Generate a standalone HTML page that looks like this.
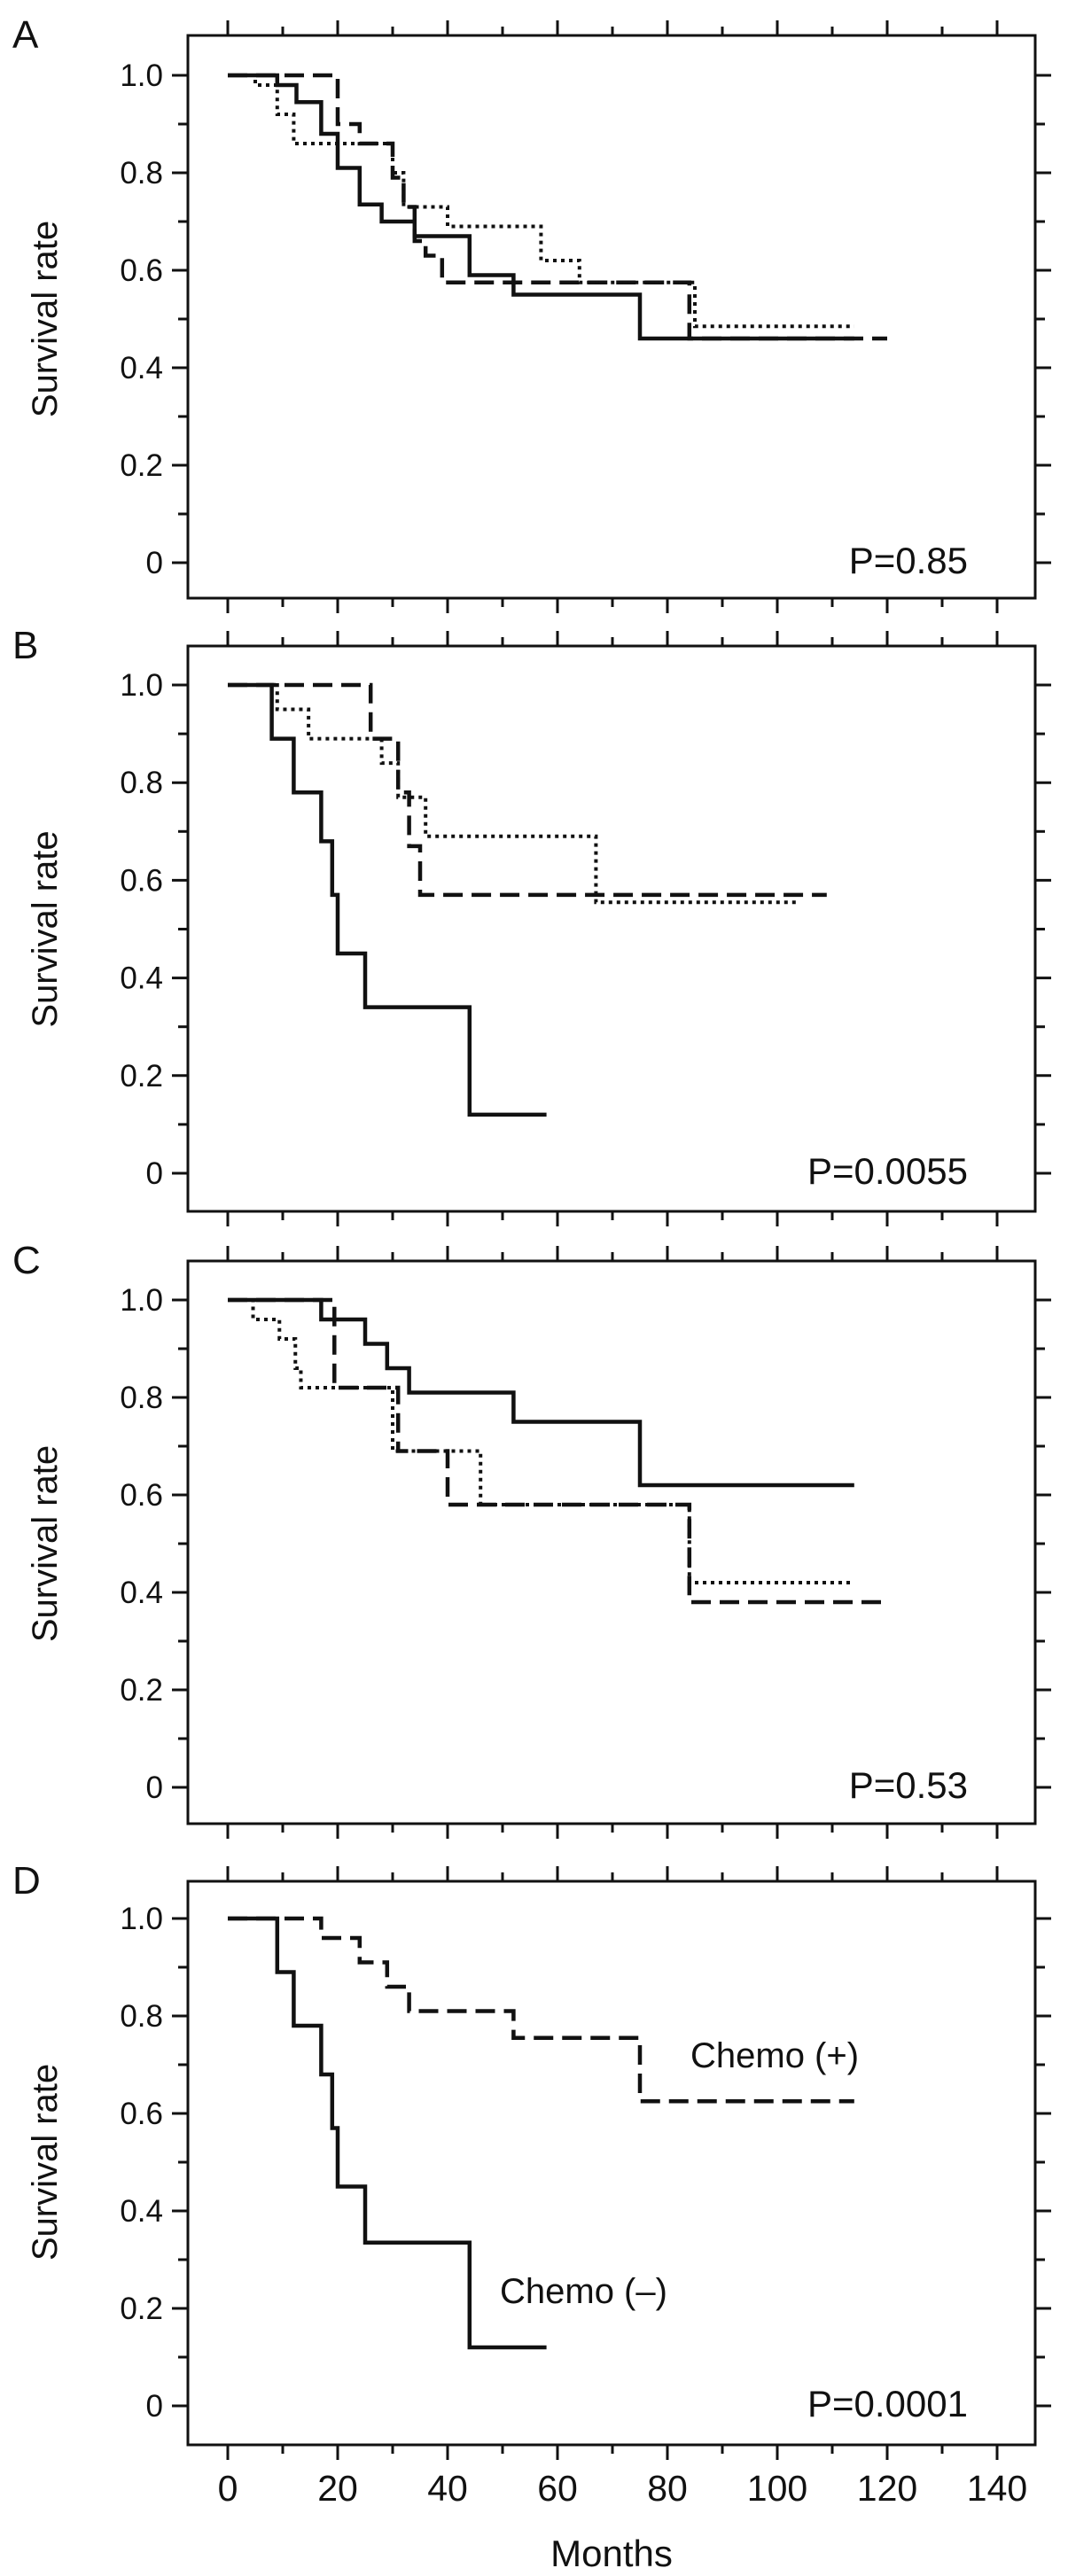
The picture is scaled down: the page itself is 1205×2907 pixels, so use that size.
<!DOCTYPE html>
<html><head><meta charset="utf-8"><style>
html,body{margin:0;padding:0;background:#fff}
svg{display:block}
text{font-family:"Liberation Sans",Arial,sans-serif;fill:#111}
</style></head><body>
<svg id="fig" width="1205" height="2907" viewBox="0 0 1205 2907" xmlns="http://www.w3.org/2000/svg"></svg>
<script>
// ---- data (months, survival) as step functions: breakpoints [month, value-after]
const xTicks = [0,20,40,60,80,100,120,140];
const yTicks = [0,0.2,0.4,0.6,0.8,1.0];
const yTickLabels = ["0","0.2","0.4","0.6","0.8","1.0"];
const panelLabels = ["A","B","C","D"];
const pValues = ["P=0.85","P=0.0055","P=0.53","P=0.0001"];

const aSolidT = [0,9,12.5,17,20,24,28,34,44,52,75,114];
const aSolidV = [1.0,0.98,0.945,0.88,0.81,0.735,0.70,0.67,0.59,0.55,0.46,0.46];
const aDashT = [0,20,24,30,32,34,36,39,84,120];
const aDashV = [1.0,0.90,0.86,0.79,0.73,0.66,0.63,0.575,0.46,0.46];
const aDotT = [0,5,9,12,30,32,40,57,64,85,114];
const aDotV = [1.0,0.98,0.92,0.86,0.80,0.73,0.69,0.62,0.575,0.485,0.485];

const bSolidT = [0,8,12,17,19,20,25,44,58];
const bSolidV = [1.0,0.89,0.78,0.68,0.57,0.45,0.34,0.12,0.12];
const bDashT = [0,26,31,33,35,109];
const bDashV = [1.0,0.89,0.78,0.67,0.57,0.57];
const bDotT = [0,9,14.7,28,31,36,67,104];
const bDotV = [1.0,0.95,0.89,0.84,0.77,0.69,0.555,0.555];

const cSolidT = [0,17,25,29,33,52,75,114];
const cSolidV = [1.0,0.96,0.91,0.86,0.81,0.75,0.62,0.62];
const cDotT = [0,4.6,9.4,12.3,13.3,30,46,84,114];
const cDotV = [1.0,0.96,0.92,0.86,0.82,0.69,0.58,0.42,0.42];
const cDashT = [0,19.4,31,40,84,120];
const cDashV = [1.0,0.82,0.69,0.58,0.38,0.38];

const dSolidT = [0,9,12,17,19,20,25,44,58];
const dSolidV = [1.0,0.89,0.78,0.68,0.57,0.45,0.335,0.12,0.12];
const dDashT = [0,17,24,29,33,52,75,114];
const dDashV = [1.0,0.96,0.91,0.86,0.81,0.755,0.625,0.625];

const NS = "http://www.w3.org/2000/svg";
const svg = document.getElementById('fig');
function mk(tag, attrs, parent){
  const e = document.createElementNS(NS, tag);
  for (const k in attrs) e.setAttribute(k, attrs[k]);
  (parent||svg).appendChild(e);
  return e;
}
const X0 = 257, XS = 6.2;
const BOX_L = 212, BOX_R = 1168;
const panels = [
  {top:40, y1:85, y0:635, bottom:675},
  {top:729, y1:773, y0:1324, bottom:1367},
  {top:1423, y1:1467, y0:2017, bottom:2058},
  {top:2123, y1:2165, y0:2715, bottom:2759}
];
const series = [
  [[aSolidT,aSolidV,'solid'],[aDashT,aDashV,'dash'],[aDotT,aDotV,'dot']],
  [[bSolidT,bSolidV,'solid'],[bDashT,bDashV,'dash'],[bDotT,bDotV,'dot']],
  [[cSolidT,cSolidV,'solid'],[cDotT,cDotV,'dot'],[cDashT,cDashV,'dash']],
  [[dSolidT,dSolidV,'solid'],[dDashT,dDashV,'dash']]
];
const xs = m => X0 + XS*m;

panels.forEach((p, i) => {
  const ys = v => p.y0 - (p.y0 - p.y1)*v;
  const g = mk('g', {});
  
  
  const lab = mk('text', {x:14, y:p.top+14, 'font-size':44}, g);
  lab.textContent = panelLabels[i];
  
  
  const box = mk('rect', {x:BOX_L, y:p.top, width:BOX_R-BOX_L, height:p.bottom-p.top, fill:'none', stroke:'#111', 'stroke-width':3}, g);
  
  
  // x ticks top and bottom
  for (let m = 0; m <= 140; m += 10) {
    const len = (m % 20 === 0) ? 17 : 10;
    const x = xs(m);
    const t1 = mk('line', {x1:x, x2:x, y1:p.top, y2:p.top-len, stroke:'#111', 'stroke-width':3}, g);
    
    
    const t2 = mk('line', {x1:x, x2:x, y1:p.bottom, y2:p.bottom+len, stroke:'#111', 'stroke-width':3}, g);
    
    
  }
  // y ticks
  for (let k = 0; k <= 10; k++) {
    const v = k/10, y = ys(v);
    const len = (k % 2 === 0) ? 18 : 11;
    const t1 = mk('line', {x1:BOX_L, x2:BOX_L-len, y1:y, y2:y, stroke:'#111', 'stroke-width':3}, g);
    
    
    const t2 = mk('line', {x1:BOX_R, x2:BOX_R+len, y1:y, y2:y, stroke:'#111', 'stroke-width':3}, g);
    
    
  }
  yTicks.forEach((v, j) => {
    const t = mk('text', {x:184, y:ys(v)+12, 'font-size':35, 'text-anchor':'end'}, g);
    t.textContent = yTickLabels[j];
    
    
  });
  const yt = mk('text', {x:0, y:0, 'font-size':40, 'text-anchor':'middle', transform:`translate(64,${(p.y0+p.y1)/2}) rotate(-90)`}, g);
  yt.textContent = 'Survival rate';
  
  
  const pv = mk('text', {x:1092, y:p.y0+12, 'font-size':42, 'text-anchor':'end'}, g);
  pv.textContent = pValues[i];
  
  
  // curves
  series[i].forEach(([T, V, style]) => {
    let d = `M${xs(T[0])},${ys(V[0])}`;
    for (let k = 1; k < T.length; k++) {
      d += ` H${xs(T[k])}`;
      if (k < T.length - 1 || V[k] !== V[k-1]) d += ` V${ys(V[k])}`;
    }
    const attrs = {d:d, fill:'none', stroke:'#111', 'stroke-width':4.5};
    if (style === 'dash') attrs['stroke-dasharray'] = '22 10';
    if (style === 'dot') { attrs['stroke-dasharray'] = '4 5'; attrs['stroke-width'] = 4; }
    const c = mk('path', attrs, g);
    
    
  });
});

// x tick labels on panel D
xTicks.forEach(m => {
  const t = mk('text', {x:xs(m), y:2822, 'font-size':41, 'text-anchor':'middle'});
  t.textContent = String(m);
  
  
});
const mt = mk('text', {x:690, y:2896, 'font-size':42, 'text-anchor':'middle'});
mt.textContent = 'Months';


const cp = mk('text', {x:779, y:2333, 'font-size':40});
cp.textContent = 'Chemo (+)';


const cm = mk('text', {x:564, y:2599, 'font-size':40});
cm.textContent = 'Chemo (–)';


</script>
</body></html>
